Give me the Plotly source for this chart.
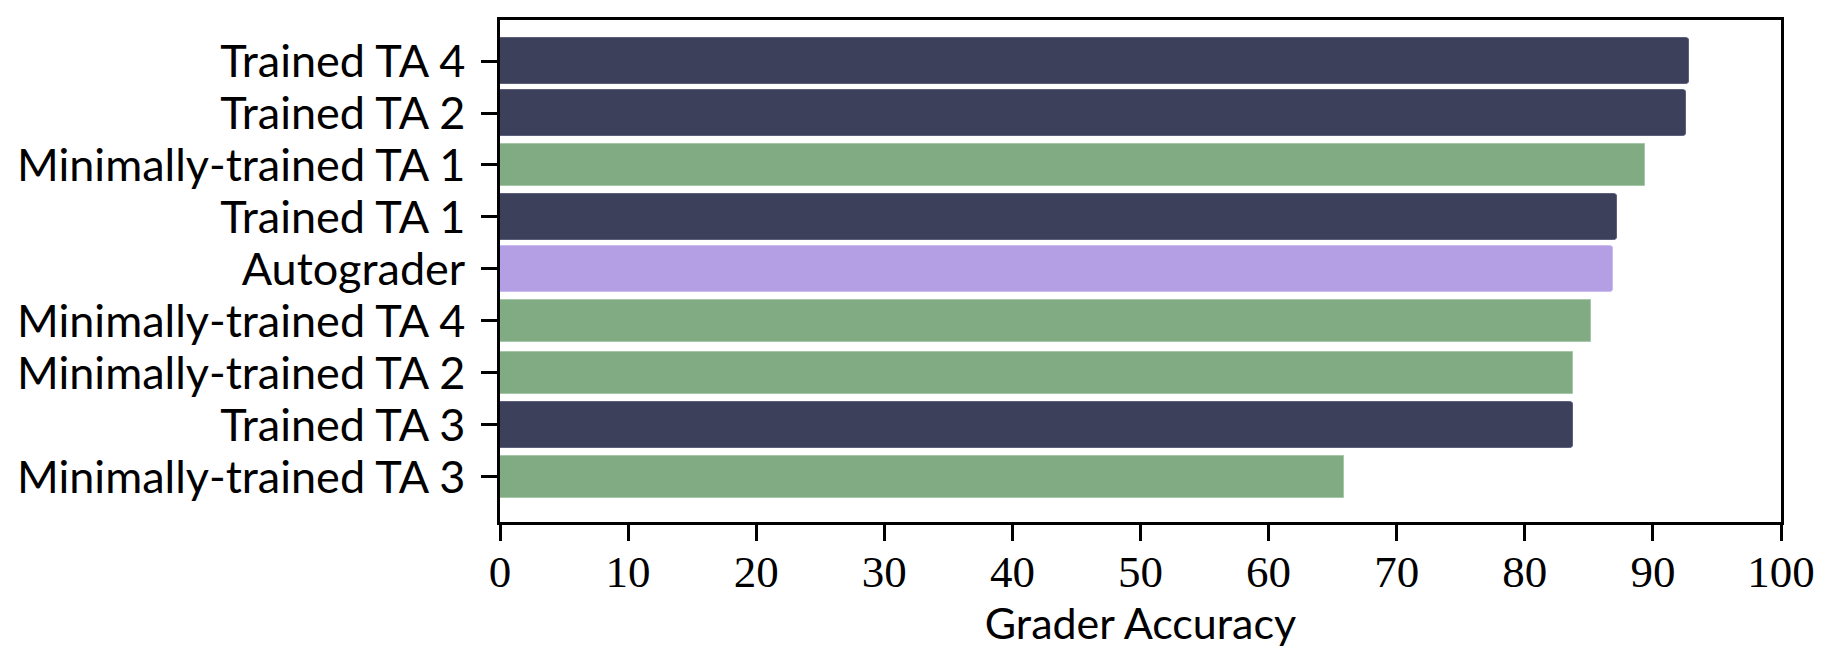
import plotly.graph_objects as go

# Data (top to bottom as displayed)
categories = [
    "Trained TA 4",
    "Trained TA 2",
    "Minimally-trained TA 1",
    "Trained TA 1",
    "Autograder",
    "Minimally-trained TA 4",
    "Minimally-trained TA 2",
    "Trained TA 3",
    "Minimally-trained TA 3",
]
accuracy = [92.85, 92.6, 89.35, 87.2, 86.85, 85.2, 83.75, 83.75, 65.9]
groups = ["trained", "trained", "minimal", "trained", "auto",
          "minimal", "minimal", "trained", "minimal"]
x_ticks = [0, 10, 20, 30, 40, 50, 60, 70, 80, 90, 100]
x_title = "Grader Accuracy"

# Styles
style = {
    "trained": dict(color="#3d405b", line="#5d5f7c", width=0.885, radius=3),
    "minimal": dict(color="#81ab83", line="#a6c7a8", width=0.8, radius=0),
    "auto": dict(color="#b49fe5", line="#cbbcf0", width=0.885, radius=3),
}

fig = go.Figure()
for g in ["trained", "minimal", "auto"]:
    ys = [c for c, gg in zip(categories, groups) if gg == g]
    xs = [v for v, gg in zip(accuracy, groups) if gg == g]
    s = style[g]
    fig.add_trace(go.Bar(
        x=xs, y=ys, orientation="h",
        width=s["width"],
        marker=dict(color=s["color"], line=dict(color=s["line"], width=1),
                    cornerradius=s["radius"]),
        showlegend=False,
    ))

fig.update_layout(
    width=1824, height=647,
    margin=dict(l=492, r=51, t=12, b=133, autoexpand=False),
    plot_bgcolor="white", paper_bgcolor="white",
    bargap=0,
)
fig.update_xaxes(
    range=[0, 100], tickmode="array", tickvals=x_ticks,
    ticktext=[str(t) for t in x_ticks],
    ticks="outside", ticklen=16, tickwidth=2.5, tickcolor="black",
    showline=True, linecolor="black", linewidth=2.5, mirror=True,
    showgrid=False, zeroline=False,
    tickfont=dict(family="Liberation Serif", size=45, color="black"),
    ticklabelstandoff=-8,
    title=dict(text=x_title, font=dict(family="Lato", size=43, color="black"), standoff=2),
    automargin=False,
)
fig.update_yaxes(
    type="category", categoryorder="array", categoryarray=categories,
    tickmode="array", tickvals=categories, ticktext=categories,
    range=[8.87, -0.79],
    ticks="outside", ticklen=16, tickwidth=2.5, tickcolor="black",
    showline=True, linecolor="black", linewidth=2.5, mirror=True,
    showgrid=False, zeroline=False,
    tickfont=dict(family="Lato", size=45, color="black"),
    ticklabelstandoff=7,
    automargin=False,
)

fig.write_html("out.html")
